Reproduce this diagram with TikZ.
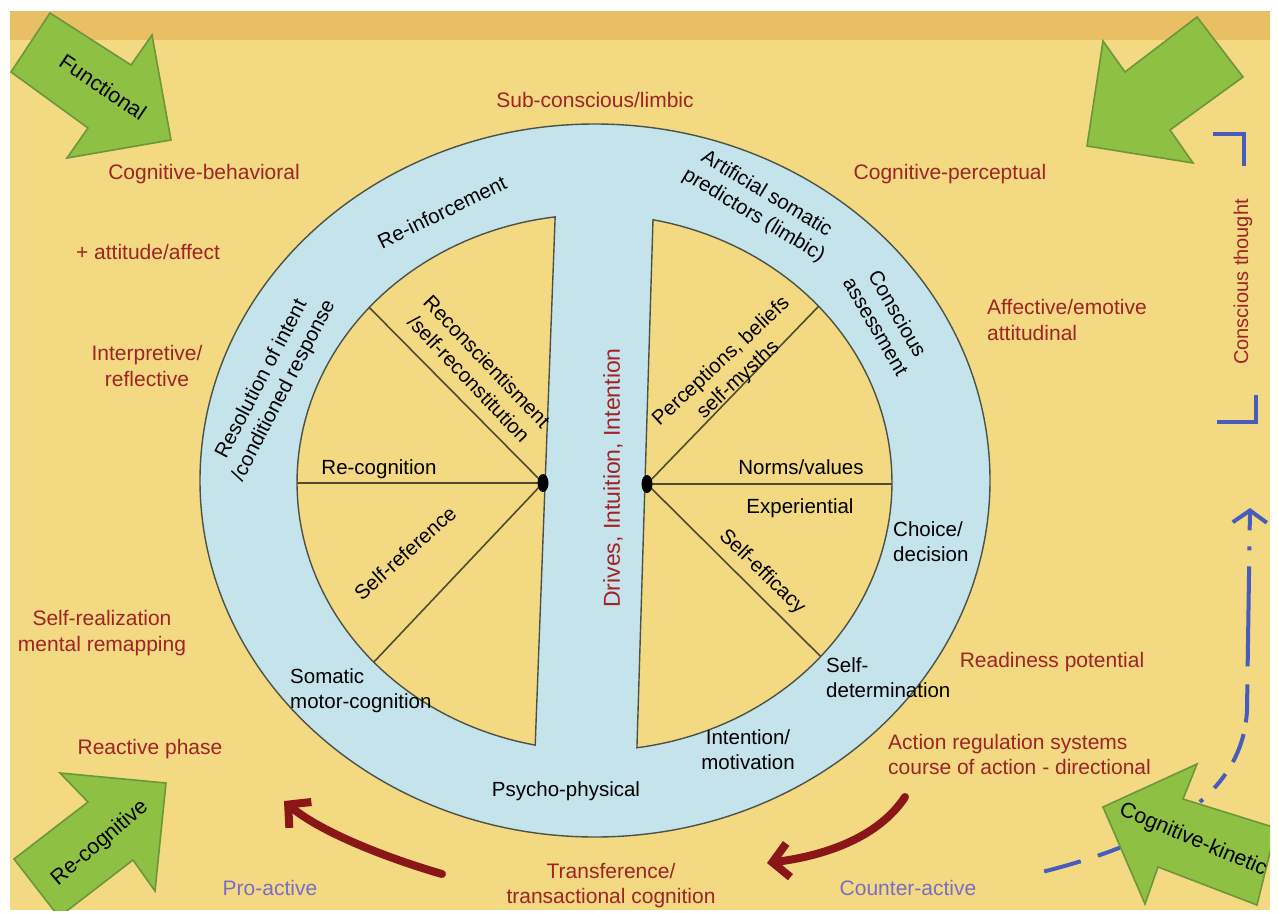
\documentclass[tikz,border=0pt]{standalone}
\usepackage{fontspec}
\setmainfont{Liberation Sans}
\usetikzlibrary{arrows.meta}
\definecolor{bgy}{RGB}{243,217,130}
\definecolor{bandc}{RGB}{233,191,100}
\definecolor{ringb}{RGB}{197,227,234}
\definecolor{edgec}{RGB}{75,82,72}
\definecolor{redt}{RGB}{160,35,38}
\definecolor{purt}{RGB}{122,110,196}
\definecolor{blued}{RGB}{72,92,190}
\definecolor{gfill}{RGB}{141,192,67}
\definecolor{gedge}{RGB}{108,150,58}
\definecolor{darr}{RGB}{138,22,24}
\definecolor{spokec}{RGB}{80,75,50}
\begin{document}
\begin{tikzpicture}[x=1pt,y=-1pt,
 blk/.style={text=black,font=\fontsize{20.5}{25}\selectfont,inner sep=0pt,align=center},
 redl/.style={text=redt,font=\fontsize{21}{25.5}\selectfont,inner sep=0pt,align=center},
 purl/.style={text=purt,font=\fontsize{21}{25}\selectfont,inner sep=0pt},
 glabel/.style={text=black,font=\fontsize{21.5}{25}\selectfont,inner sep=0pt},
 garrow/.style={fill=gfill,draw=gedge,line width=1.6pt,line join=miter},
 sectorsty/.style={fill=bgy,draw=edgec,line width=1.4pt},
 spoke/.style={draw=spokec,line width=1.6pt},
 redarrow/.style={draw=darr,line width=8pt,line cap=round,-{Straight Barb[length=16pt,width=34pt]}},
 bluedash/.style={draw=blued,line width=4pt,dash pattern=on 18pt off 16pt on 4pt off 16pt on 100pt off 18pt on 38pt off 12pt on 30pt off 14pt},
 bluemark/.style={draw=blued,line width=4pt}
]
\useasboundingbox (0,0) rectangle (1278,913);
\fill[white] (0,0) rectangle (1278,913);
\fill[bgy] (10,11) rectangle (1270,910);
\fill[bandc] (10,11) rectangle (1270,40);

% ring and sectors
\draw[fill=ringb,draw=edgec,line width=1.4pt] (595,480.5) ellipse [x radius=395, y radius=356.5];
\draw[sectorsty] plot[domain=101.5:262.4,samples=90] ({594.5+297.5*cos(\x)},{482.5+268*sin(\x)}) -- cycle;
\draw[sectorsty] plot[domain=-78.66:81.8,samples=90] ({594.5+297.5*cos(\x)},{482.5+268*sin(\x)}) -- cycle;

% spokes
\coordinate (hubL) at (543,483);
\coordinate (hubR) at (647,484);
\coordinate (sL1) at (369.3,307.5);
\coordinate (sL2) at (297,483);
\coordinate (sL3) at (373.8,662.1);
\coordinate (sR1) at (818.5,306.4);
\coordinate (sR2) at (892,484);
\coordinate (sR3) at (820.7,656.5);
\draw[spoke] (hubL) -- (sL1);
\draw[spoke] (hubL) -- (sL2);
\draw[spoke] (hubL) -- (sL3);
\draw[spoke] (hubR) -- (sR1);
\draw[spoke] (hubR) -- (sR2);
\draw[spoke] (hubR) -- (sR3);
\fill[black] (hubL) ellipse [x radius=5.5, y radius=9];
\fill[black] (hubR) ellipse [x radius=5.5, y radius=9];

% texts in the ring and sectors
\node[blk,rotate=26] (reinf) at (442,212) {Re-inforcement};
\node[blk,rotate=62.5] (resol) at (273,385) {Resolution of intent\\/conditioned response};
\node[blk,rotate=-46.5] (recons) at (478,370) {Reconscientisment\\/self-reconstitution};
\node[blk] (recog) at (379,469) {Re-cognition};
\node[blk,rotate=42] (selfref) at (405,553) {Self-reference};
\node[blk,align=left,anchor=west] (somatic) at (290,690.5) {Somatic\\motor-cognition};
\node[blk] (psycho) at (566,791) {Psycho-physical};
\node[redl,font=\fontsize{23}{26}\selectfont,rotate=90] (drives) at (613,478) {Drives, Intuition, Intention};
\node[blk,rotate=-31] (artif) at (760,205) {Artificial somatic\\predictors (limbic)};
\node[blk,rotate=-60] (consc) at (887,320) {Conscious\\assessment};
\node[blk,rotate=43] (percep) at (730,371) {Perceptions, beliefs\\self-mysths};
\node[blk] (norms) at (801,467) {Norms/values};
\node[blk] (exper) at (800,508) {Experiential};
\node[blk,rotate=-44] (selfeff) at (762,572) {Self-efficacy};
\node[blk,align=left,anchor=west] (choice) at (893,542) {Choice/\\decision};
\node[blk,align=left,anchor=west] (selfdet) at (826,678) {Self-\\determination};
\node[blk] (intent) at (748,750) {Intention/\\motivation};

% outer red labels
\node[redl] (subc) at (595,100) {Sub-conscious/limbic};
\node[redl] (cogbeh) at (204,174) {Cognitive-behavioral};
\node[redl] (attit) at (148,252) {+ attitude/affect};
\node[redl] (interp) at (147,366) {Interpretive/\\reflective};
\node[redl] (selfreal) at (102,633) {Self-realization\\mental remapping};
\node[redl] (reactive) at (150,749) {Reactive phase};
\node[redl] (cogper) at (950,174) {Cognitive-perceptual};
\node[redl,align=left,anchor=west] (affect) at (987,320) {Affective/emotive\\attitudinal};
\node[redl] (ready) at (1052,662) {Readiness potential};
\node[redl,align=left,anchor=west] (action) at (888,754.5) {Action regulation systems\\course of action - directional};
\node[redl] (transf) at (611,885.5) {Transference/\\transactional cognition};
\node[redl,font=\fontsize{20}{24}\selectfont,rotate=90] (consth) at (1243,282) {Conscious thought};
\node[purl] (proact) at (270,888) {Pro-active};
\node[purl] (counter) at (908,888) {Counter-active};

% blue marks and dashed arrow
\draw[bluemark] (1213,134) -- (1244,134) -- (1244,166);
\draw[bluemark] (1217,422) -- (1256,422) -- (1256,395);
\coordinate (btip) at (1250,508);
\coordinate (bturn) at (1247,710);
\coordinate (bstart) at (1042,872);
\draw[bluedash,{Straight Barb[length=12pt,width=34pt]}-] (btip) -- (bturn) .. controls (1243,800) and (1150,845) .. (bstart);

% red curved arrows
\coordinate (rl1) at (442,874);
\coordinate (rl2) at (284,801);
\draw[redarrow] (rl1) .. controls (380,856) and (318,830) .. (rl2);
\coordinate (rr1) at (905,797);
\coordinate (rr2) at (767,863);
\draw[redarrow] (rr1) .. controls (880,835) and (830,855) .. (rr2);

% green block arrows
\draw[garrow] (11,72) -- (50,13) -- (131,65) -- (152,35) -- (171,140) -- (67,158) -- (88,128) -- cycle;
\node[glabel,rotate=-34] (functional) at (103,87) {Functional};
\draw[garrow] (1197,17) -- (1243,77) -- (1170,130) -- (1193,163) -- (1087,146) -- (1103,41) -- (1125,72) -- cycle;
\begin{scope}
\clip (10,11) rectangle (1270,910);
\draw[garrow] (14,859) -- (88,802) -- (60,773) -- (166,783) -- (155,891) -- (133,860) -- (59,917) -- cycle;
\draw[garrow] (1197,764) -- (1103,807) -- (1145,904) -- (1158,867) -- (1257,905) -- (1276,828) -- (1183,799) -- cycle;
\end{scope}
\node[glabel,rotate=40.5] (recogn) at (100,843) {Re-cognitive};
\node[glabel,rotate=-23] (cogkin) at (1193,840) {Cognitive-kinetic};
\end{tikzpicture}
\end{document}
